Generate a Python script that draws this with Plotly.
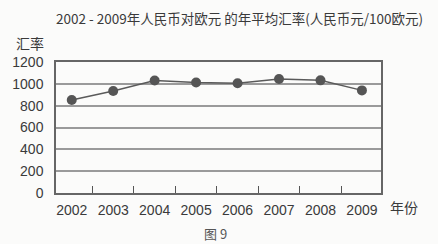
import plotly.graph_objects as go

years = ["2002", "2003", "2004", "2005", "2006", "2007", "2008", "2009"]
rates = [852, 935, 1030, 1012, 1005, 1045, 1032, 940]
y_ticks = [0, 200, 400, 600, 800, 1000, 1200]

TXT = "#3a3a3a"
L, R, T, B = 53, 57, 62, 51
W, H = 438, 244
pw, ph = W - L - R, H - T - B

def px2paper(px, py):
    return (px - L) / pw, 1 - (py - T) / ph

fig = go.Figure()
fig.add_trace(go.Scatter(
    x=years, y=rates, mode="lines+markers",
    line=dict(color="#5a5a5a", width=1.5),
    marker=dict(color="#555555", size=10),
    cliponaxis=False, showlegend=False,
))

notes = [
    ("2002 - 2009年人民币对欧元 的年平均汇率(人民币元/100欧元)", 238, 18, 13.5, TXT),
    ("汇率", 27, 43, 14, TXT),
    ("年份", 404, 207, 14, TXT),
    ("图 9", 214, 233, 13, "#555"),
]
annotations = []
for text, x, y, size, col in notes:
    ax, ay = px2paper(x, y)
    annotations.append(dict(text=text, x=ax, y=ay, xref="paper", yref="paper",
                            xanchor="center", yanchor="middle", showarrow=False,
                            font=dict(size=size, color=col, family="Noto Sans CJK SC")))

fig.update_layout(
    width=W, height=H,
    margin=dict(l=L, r=R, t=T, b=B),
    paper_bgcolor="#fbfbfa", plot_bgcolor="#fbfbfa",
    font=dict(family="Liberation Sans, Arial, sans-serif", color=TXT, size=14),
    xaxis=dict(
        type="category", range=[-0.38, 7.46],
        tickson="boundaries", ticks="inside", ticklen=7, tickwidth=1.2, tickcolor="#555",
        showline=True, linecolor="#666", linewidth=1.5, mirror=True, tickangle=0,
        showgrid=False, tickfont=dict(size=14, color=TXT), ticklabelstandoff=3,
    ),
    yaxis=dict(
        range=[0, 1200], tickvals=y_ticks, ticks="",
        showline=True, linecolor="#666", linewidth=1.5, mirror=True,
        showgrid=True, gridcolor="#9a9a9a", gridwidth=1.5, zeroline=False,
        tickfont=dict(size=14, color=TXT), ticklabelstandoff=8,
    ),
    annotations=annotations,
)

fig.write_html("out.html")
